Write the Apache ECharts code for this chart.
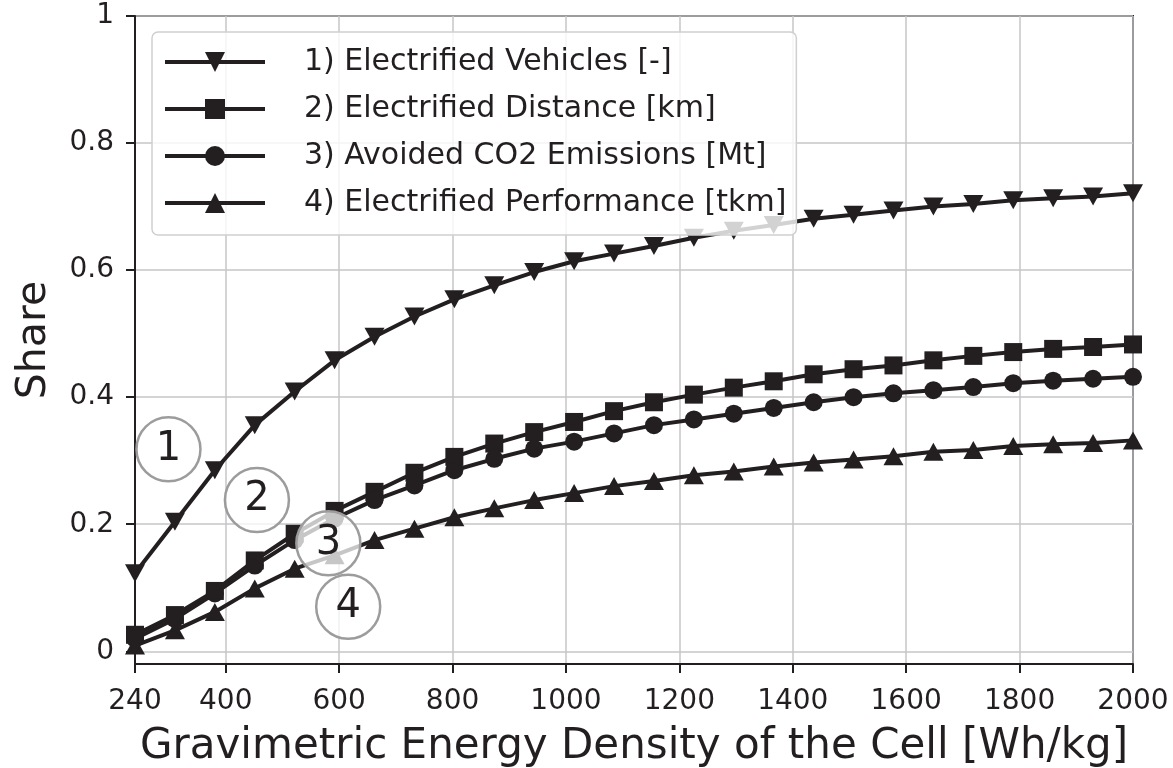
<!DOCTYPE html>
<html>
<head>
<meta charset="utf-8">
<script src="https://cdn.jsdelivr.net/npm/echarts@6/dist/echarts.min.js"></script>
<style>
html,body{margin:0;padding:0;background:#fff;}
#chart{width:1173px;height:768px;}
</style>
</head>
<body>
<div id="chart"></div>
<script>
// Gravimetric energy density of the cell [Wh/kg]
const energyDensity = [240, 310.4, 380.8, 451.2, 521.6, 592, 662.4, 732.8, 803.2, 873.6, 944, 1014.4, 1084.8,
  1155.2, 1225.6, 1296, 1366.4, 1436.8, 1507.2, 1577.6, 1648, 1718.4, 1788.8, 1859.2, 1929.6, 2000];

const seriesNames = [
  '1) Electrified Vehicles [-]',
  '2) Electrified Distance [km]',
  '3) Avoided CO2 Emissions [Mt]',
  '4) Electrified Performance [tkm]'
];

const vehicles = [0.123, 0.204, 0.285, 0.356, 0.409, 0.458, 0.495, 0.527, 0.554, 0.576, 0.597, 0.614, 0.626,
  0.638, 0.651, 0.662, 0.671, 0.681, 0.687, 0.694, 0.700, 0.704, 0.710, 0.713, 0.716, 0.721];
const distance = [0.026, 0.057, 0.095, 0.143, 0.185, 0.221, 0.251, 0.281, 0.306, 0.327, 0.345, 0.361, 0.378,
  0.392, 0.404, 0.415, 0.425, 0.436, 0.444, 0.450, 0.458, 0.465, 0.471, 0.476, 0.479, 0.483];
const co2 = [0.020, 0.051, 0.091, 0.135, 0.175, 0.209, 0.238, 0.261, 0.285, 0.303, 0.319, 0.330, 0.343,
  0.356, 0.365, 0.374, 0.383, 0.392, 0.400, 0.406, 0.411, 0.416, 0.422, 0.426, 0.429, 0.432];
const performance = [0.009, 0.033, 0.062, 0.099, 0.130, 0.151, 0.175, 0.193, 0.211, 0.225, 0.238, 0.249, 0.260,
  0.268, 0.277, 0.283, 0.291, 0.297, 0.302, 0.307, 0.314, 0.317, 0.323, 0.326, 0.328, 0.332];

// Circled annotation labels and their positions (data coordinates)
const annoLabels = ['1', '2', '3', '4'];
const annoX = [299, 455, 581, 616];
const annoY = [0.318, 0.238, 0.170, 0.070];

const xTicks = [240, 400, 600, 800, 1000, 1200, 1400, 1600, 1800, 2000];
const yTicks = [0, 0.2, 0.4, 0.6, 0.8, 1];

const INK = '#231f20';
const FONT = 'DejaVu Sans';

function pairs(ys) { return energyDensity.map((x, i) => [x, ys[i]]); }

const chart = echarts.init(document.getElementById('chart'), null, {renderer: 'canvas'});

const lineBase = {
  type: 'line',
  smooth: false,
  showAllSymbol: true,
  lineStyle: {color: INK, width: 4},
  itemStyle: {color: INK, opacity: 1},
  emphasis: {disabled: true},
  z: 3
};

chart.setOption({
  animation: false,
  backgroundColor: '#ffffff',
  textStyle: {fontFamily: FONT},
  grid: {
    left: 135, right: 40, top: 16, bottom: 104,
    containLabel: false, outerBoundsMode: 'none',
    show: true, borderColor: INK, borderWidth: 2, backgroundColor: 'transparent'
  },
  legend: {
    data: seriesNames,
    left: 152, top: 32,
    orient: 'vertical',
    itemWidth: 100, itemHeight: 25, itemGap: 17,
    padding: [15, 10, 17, 11],
    backgroundColor: 'rgba(255,255,255,0.8)',
    borderColor: '#cfcfcf', borderWidth: 1.5, borderRadius: 6,
    lineStyle: {width: 4, color: INK},
    textStyle: {fontFamily: FONT, fontSize: 30, color: INK, padding: [0, 0, 0, 34], lineHeight: 30},
    selectedMode: false,
    z: 10
  },
  xAxis: {
    type: 'value', min: 240, max: 2000,
    name: 'Gravimetric Energy Density of the Cell [Wh/kg]',
    nameLocation: 'middle', nameGap: 62,
    nameTextStyle: {fontFamily: FONT, fontSize: 42, color: INK},
    axisLine: {show: true, onZero: false, lineStyle: {color: INK, width: 2}},
    axisTick: {show: true, customValues: xTicks, length: 9, lineStyle: {color: INK, width: 2}},
    axisLabel: {customValues: xTicks, fontFamily: FONT, fontSize: 28, color: INK, margin: 24,
      formatter: v => String(v)},
    splitLine: {show: true, lineStyle: {color: '#c6c6ca', width: 1.5}}
  },
  yAxis: {
    type: 'value', min: -0.02, max: 1,
    name: 'Share',
    nameLocation: 'middle', nameGap: 80,
    nameTextStyle: {fontFamily: FONT, fontSize: 41, color: INK},
    axisLine: {show: true, onZero: false, lineStyle: {color: INK, width: 2}},
    axisTick: {show: true, customValues: yTicks, length: 9, lineStyle: {color: INK, width: 2}},
    axisLabel: {customValues: yTicks, fontFamily: FONT, fontSize: 28, color: INK, margin: 21,
      formatter: v => String(Math.round(v * 10) / 10)},
    splitLine: {show: true, lineStyle: {color: '#c6c6ca', width: 1.5}}
  },
  series: [
    Object.assign({}, lineBase, {name: seriesNames[0], data: pairs(vehicles), symbol: 'triangle', symbolRotate: 180, symbolSize: [20, 18]}),
    Object.assign({}, lineBase, {name: seriesNames[1], data: pairs(distance), symbol: 'rect', symbolSize: 18}),
    Object.assign({}, lineBase, {name: seriesNames[2], data: pairs(co2), symbol: 'circle', symbolSize: 18}),
    Object.assign({}, lineBase, {name: seriesNames[3], data: pairs(performance), symbol: 'triangle', symbolSize: [20, 18]}),
    {
      type: 'scatter',
      name: 'annotations',
      data: annoLabels.map((t, i) => [annoX[i], annoY[i], t]),
      symbol: 'circle',
      symbolSize: 64,
      itemStyle: {color: 'rgba(255,255,255,0.75)', borderColor: '#9c9c9c', borderWidth: 2.5, opacity: 1},
      label: {
        show: true, position: 'inside',
        formatter: p => p.value[2],
        fontFamily: FONT, fontSize: 40, color: INK
      },
      emphasis: {disabled: true},
      z: 5
    }
  ]
});
</script>
</body>
</html>
